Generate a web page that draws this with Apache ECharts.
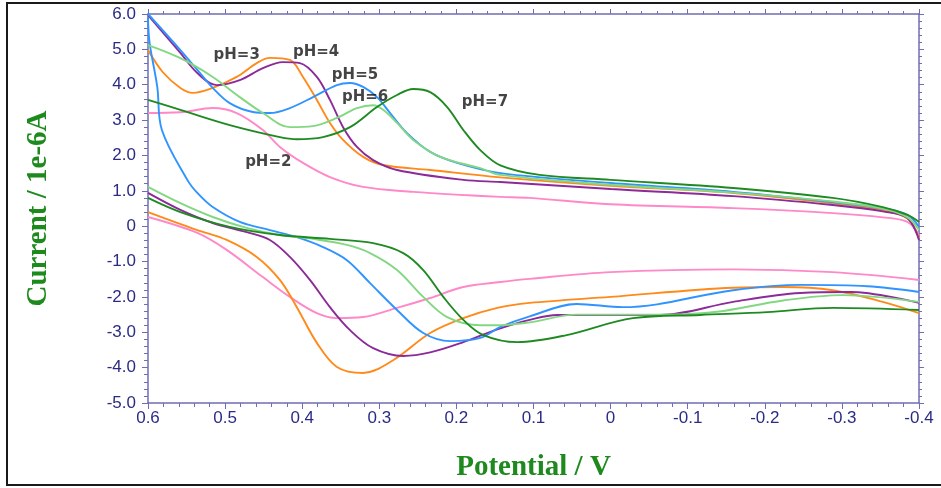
<!DOCTYPE html>
<html>
<head>
<meta charset="utf-8">
<script src="https://cdn.jsdelivr.net/npm/echarts@6/dist/echarts.min.js"></script>
<style>
  html, body { margin: 0; padding: 0; background: #fff; }
  #chart { width: 941px; height: 488px; }
</style>
</head>
<body>
<div id="chart"></div>
<script>
// Cyclic voltammograms at different pH: potential (V) vs current (1e-6 A).
// Each scan: forward branch from 0.6 V to -0.4 V, reverse branch back to 0.6 V.

const ph2Forward = [[0.6,3.2],[0.558,3.22],[0.516,3.34],[0.485,3.2],[0.451,2.72],[0.429,2.24],[0.399,1.79],[0.364,1.39],[0.321,1.11],[0.256,0.97],[0.191,0.88],[0.143,0.83],[0.105,0.80],[0.0,0.62],[-0.159,0.51],[-0.288,0.37],[-0.353,0.25],[-0.385,0.12],[-0.4,-0.25]];
const ph2Reverse = [[-0.4,-1.52],[-0.288,-1.30],[-0.159,-1.22],[0.0,-1.30],[0.105,-1.49],[0.143,-1.58],[0.191,-1.72],[0.234,-2.03],[0.277,-2.31],[0.321,-2.57],[0.355,-2.60],[0.381,-2.46],[0.416,-2.0],[0.451,-1.44],[0.498,-0.67],[0.536,-0.19],[0.6,0.26]];

const ph3Forward = [[0.6,4.98],[0.581,4.36],[0.558,3.91],[0.542,3.77],[0.516,3.91],[0.485,4.22],[0.459,4.61],[0.442,4.76],[0.416,4.70],[0.399,4.22],[0.381,3.57],[0.364,2.92],[0.347,2.44],[0.321,1.96],[0.295,1.73],[0.234,1.59],[0.143,1.38],[0.0,1.14],[-0.159,0.94],[-0.288,0.65],[-0.353,0.45],[-0.385,0.22],[-0.4,-0.33]];
const ph3Reverse = [[-0.4,-2.46],[-0.353,-2.14],[-0.288,-1.81],[-0.224,-1.72],[-0.159,-1.74],[0.0,-2.0],[0.105,-2.17],[0.147,-2.31],[0.191,-2.60],[0.234,-3.02],[0.282,-3.79],[0.321,-4.15],[0.355,-3.98],[0.381,-3.30],[0.407,-2.29],[0.429,-1.52],[0.459,-0.87],[0.498,-0.39],[0.536,-0.11],[0.6,0.40]];

const ph4Forward = [[0.6,5.97],[0.558,4.9],[0.536,4.33],[0.511,3.99],[0.481,4.13],[0.451,4.47],[0.425,4.64],[0.403,4.61],[0.381,4.22],[0.364,3.57],[0.347,2.80],[0.329,2.24],[0.308,1.87],[0.277,1.59],[0.191,1.31],[0.143,1.25],[0.0,1.05],[-0.159,0.85],[-0.288,0.60],[-0.353,0.42],[-0.385,0.23],[-0.4,-0.39]];
const ph4Reverse = [[-0.4,-2.17],[-0.311,-1.86],[-0.246,-1.89],[-0.159,-2.14],[-0.064,-2.51],[0.069,-2.51],[0.105,-2.65],[0.147,-2.92],[0.191,-3.28],[0.234,-3.57],[0.269,-3.67],[0.308,-3.45],[0.338,-2.94],[0.364,-2.29],[0.390,-1.52],[0.416,-0.87],[0.442,-0.39],[0.472,-0.17],[0.516,0.09],[0.558,0.46],[0.6,0.94]];

const ph5Forward = [[0.6,6.0],[0.558,4.98],[0.536,4.42],[0.516,3.91],[0.494,3.48],[0.464,3.23],[0.442,3.20],[0.416,3.34],[0.386,3.65],[0.355,3.99],[0.338,4.05],[0.321,3.94],[0.303,3.65],[0.286,3.20],[0.264,2.63],[0.234,2.10],[0.199,1.79],[0.143,1.50],[0.0,1.22],[-0.159,0.97],[-0.288,0.68],[-0.353,0.50],[-0.385,0.32],[-0.4,-0.02]];
const ph5Reverse = [[-0.4,-1.86],[-0.333,-1.70],[-0.246,-1.66],[-0.159,-1.81],[-0.016,-2.29],[0.044,-2.20],[0.105,-2.55],[0.143,-2.85],[0.169,-3.16],[0.208,-3.25],[0.243,-3.02],[0.277,-2.37],[0.312,-1.61],[0.342,-0.96],[0.373,-0.59],[0.407,-0.31],[0.442,-0.11],[0.481,0.12],[0.516,0.54],[0.536,0.94],[0.549,1.31],[0.582,2.72],[0.588,3.94],[0.598,5.2],[0.6,5.9]];

const ph6Forward = [[0.6,5.12],[0.558,4.75],[0.516,4.22],[0.481,3.65],[0.451,3.20],[0.416,2.80],[0.386,2.83],[0.355,3.06],[0.329,3.34],[0.308,3.42],[0.295,3.29],[0.277,2.92],[0.256,2.44],[0.221,1.96],[0.169,1.64],[0.143,1.45],[0.0,1.17],[-0.159,0.95],[-0.288,0.70],[-0.353,0.50],[-0.385,0.25],[-0.4,-0.11]];
const ph6Reverse = [[-0.4,-2.14],[-0.301,-1.95],[-0.224,-2.10],[-0.138,-2.42],[-0.073,-2.50],[0.044,-2.50],[0.105,-2.72],[0.143,-2.80],[0.169,-2.80],[0.212,-2.57],[0.243,-2.0],[0.277,-1.24],[0.312,-0.76],[0.342,-0.53],[0.386,-0.36],[0.429,-0.25],[0.472,-0.05],[0.516,0.26],[0.558,0.65],[0.6,1.11]];

const ph7Forward = [[0.6,3.57],[0.558,3.29],[0.494,2.86],[0.429,2.52],[0.407,2.46],[0.373,2.52],[0.338,2.80],[0.303,3.37],[0.277,3.71],[0.256,3.88],[0.234,3.79],[0.212,3.37],[0.191,2.72],[0.169,2.15],[0.143,1.72],[0.092,1.45],[0.0,1.31],[-0.159,1.08],[-0.288,0.80],[-0.353,0.54],[-0.385,0.32],[-0.4,0.12]];
const ph7Reverse = [[-0.4,-2.37],[-0.288,-2.31],[-0.203,-2.43],[-0.116,-2.51],[-0.029,-2.60],[0.057,-3.08],[0.121,-3.28],[0.165,-3.08],[0.191,-2.65],[0.217,-2.0],[0.243,-1.24],[0.269,-0.76],[0.308,-0.48],[0.364,-0.36],[0.429,-0.25],[0.494,-0.02],[0.558,0.40],[0.6,0.80]];

// Curve annotations, placed in data coordinates
const phNames = ['pH=2', 'pH=3', 'pH=4', 'pH=5', 'pH=6', 'pH=7'];
const phLabelAt = [[0.444,1.81],[0.485,4.84],[0.382,4.93],[0.3315,4.27],[0.3185,3.65],[0.163,3.51]];

const phColors = ['#ff88c8', '#ff8a1a', '#8b2a98', '#2f94ff', '#82d882', '#1f8a22'];
const scans = [
  [ph2Forward, ph2Reverse],
  [ph3Forward, ph3Reverse],
  [ph4Forward, ph4Reverse],
  [ph5Forward, ph5Reverse],
  [ph6Forward, ph6Reverse],
  [ph7Forward, ph7Reverse]
];

const axisColor = '#6e6eb6';
const labelColor = '#2b2b86';
const titleStyle = { fontFamily: 'Liberation Serif', fontWeight: 'bold', fontSize: 29, color: '#1e8a1e' };
const fmt = v => Math.abs(v) < 1e-9 ? '0' : v.toFixed(1);

const series = [];
scans.forEach((pair, i) => {
  pair.forEach((branch, j) => {
    series.push({
      name: phNames[i] + (j === 0 ? ' forward' : ' reverse'),
      type: 'line',
      data: branch,
      showSymbol: false,
      smooth: 0.35,
      lineStyle: { color: phColors[i], width: 1.9 },
      z: 3
    });
  });
});
series.push({
  type: 'scatter',
  symbolSize: 0,
  data: phNames.map((n, i) => ({ name: n, value: phLabelAt[i] })),
  label: {
    show: true,
    position: 'inside',
    formatter: p => p.name,
    fontFamily: 'DejaVu Sans',
    fontWeight: 'bold',
    fontSize: 15,
    color: '#151515'
  },
  z: 5
});

function xAxisDef(pos, main) {
  return {
    type: 'value', min: -0.4, max: 0.6, interval: 0.1, inverse: true,
    position: pos,
    name: main ? 'Potential / V' : '', nameLocation: 'middle', nameGap: 50,
    nameTextStyle: titleStyle,
    axisLine: { show: true, onZero: false, lineStyle: { color: axisColor, width: 1.5 } },
    axisTick: { show: true, length: main ? 6 : 5, lineStyle: { color: axisColor } },
    minorTick: { show: true, splitNumber: 5, length: main ? 4 : 3, lineStyle: { color: axisColor } },
    axisLabel: { show: main, formatter: fmt, margin: 7, fontFamily: 'Liberation Sans', fontSize: 17, color: labelColor },
    splitLine: { show: false }
  };
}
function yAxisDef(pos, main) {
  return {
    type: 'value', min: -5, max: 6, interval: 1,
    position: pos,
    name: main ? 'Current / 1e-6A' : '', nameLocation: 'middle', nameGap: 95,
    nameTextStyle: titleStyle,
    axisLine: { show: true, onZero: false, lineStyle: { color: axisColor, width: 1.5 } },
    axisTick: { show: true, length: main ? 6 : 5, lineStyle: { color: axisColor } },
    minorTick: { show: true, splitNumber: 5, length: main ? 4 : 3, lineStyle: { color: axisColor } },
    axisLabel: { show: main, formatter: fmt, margin: 12, fontFamily: 'Liberation Sans', fontSize: 17, color: labelColor },
    splitLine: { show: false }
  };
}

const chart = echarts.init(document.getElementById('chart'), null, { renderer: 'canvas' });
chart.setOption({
  animation: false,
  backgroundColor: '#ffffff',
  grid: { left: 148, right: 22, top: 14, bottom: 85 },
  xAxis: [xAxisDef('bottom', true), xAxisDef('top', false)],
  yAxis: [yAxisDef('left', true), yAxisDef('right', false)],
  graphic: [
    {
      type: 'rect', silent: true, z: -1,
      shape: { x: 7, y: 3, width: 940, height: 482 },
      style: { fill: 'none', stroke: '#1a1a1a', lineWidth: 2 }
    }
  ],
  series: series
});
</script>
</body>
</html>
